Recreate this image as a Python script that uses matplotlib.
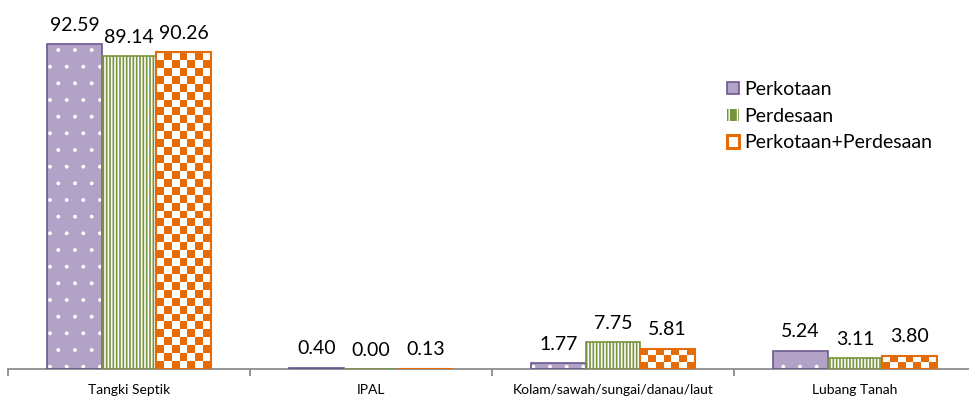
import numpy as np
import matplotlib
matplotlib.use("Agg")
import matplotlib.pyplot as plt
from matplotlib.patches import Patch

# data
kategori = ["Tangki Septik", "IPAL", "Kolam/sawah/sungai/danau/laut", "Lubang Tanah"]
perkotaan = [92.59, 0.40, 1.77, 5.24]
perdesaan = [89.14, 0.00, 7.75, 3.11]
gabungan = [90.26, 0.13, 5.81, 3.80]
label_seri = ["Perkotaan", "Perdesaan", "Perkotaan+Perdesaan"]

plt.rcParams["font.family"] = ["Lato", "DejaVu Sans"]

ungu, ungu_tepi = "#b3a2c7", "#6b5890"
hijau = "#77933c"
oranye = "#e36c09"

fig = plt.figure(figsize=(9.69, 4.0), dpi=100)
ax = fig.add_axes([8 / 969, 31 / 400, 968 / 969, 351 / 400])

x = np.arange(len(kategori))
w = 0.225

# Perkotaan: ungu dengan titik putih
with plt.rc_context({"hatch.linewidth": 0.3}):
    ax.bar(x - w, perkotaan, w, color=ungu, edgecolor="white", hatch=".", linewidth=0, zorder=2)
ax.bar(x - w, perkotaan, w, facecolor="none", edgecolor=ungu_tepi, linewidth=1.2, zorder=3)

# Perdesaan: garis vertikal
with plt.rc_context({"hatch.linewidth": 1.2}):
    ax.bar(x, perdesaan, w, color=hijau, edgecolor="white", hatch="|||||", linewidth=0, zorder=2)
ax.bar(x, perdesaan, w, facecolor="none", edgecolor=hijau, linewidth=1.2, zorder=3)

# Perkotaan+Perdesaan: papan catur
bars_o = ax.bar(x + w, gabungan, w, color="white", edgecolor="none", zorder=2)
px_x = 242.0       # piksel per satuan x
px_y = 351 / 100.0  # piksel per satuan y
sel = 8.0
cmap = matplotlib.colors.ListedColormap([oranye, "white"])
for b in bars_o:
    bx, bw, bh = b.get_x(), b.get_width(), b.get_height()
    nx = max(1, int(round(bw * px_x / sel)))
    ny = max(1, int(round(bh * px_y / sel)))
    papan = (np.add.outer(np.arange(ny), np.arange(nx)) % 2).astype(float)
    im = ax.imshow(papan, extent=(bx, bx + bw, 0, bh), origin="lower", cmap=cmap,
                   interpolation="nearest", aspect="auto", zorder=2.5)
    im.set_clip_path(b)
ax.bar(x + w, gabungan, w, facecolor="none", edgecolor=oranye, linewidth=1.5, zorder=3)

# label nilai
for off, vals in zip([-w, 0, w], [perkotaan, perdesaan, gabungan]):
    for xi, v in zip(x, vals):
        ax.annotate(f"{v:.2f}", (xi + off, v), xytext=(0, 9.5), textcoords="offset points",
                    ha="center", va="baseline", fontsize=14, color="black")

ax.set_xlim(-0.5, len(kategori) - 0.5)
ax.set_ylim(0, 100)

for s in ["top", "right", "left"]:
    ax.spines[s].set_visible(False)
ax.spines["bottom"].set_color("#8c8c8c")
ax.spines["bottom"].set_linewidth(1.3)
ax.set_yticks([])
ax.set_xticks(x)
ax.set_xticklabels(kategori, fontsize=10)
ax.tick_params(axis="x", which="major", length=0, pad=11)
ax.set_xticks(np.arange(len(kategori) + 1) - 0.5, minor=True)
ax.tick_params(axis="x", which="minor", length=5, width=1.3, color="#8c8c8c", direction="out")

with plt.rc_context({"hatch.linewidth": 1.5}):
    handles = [
        Patch(facecolor=ungu, edgecolor=ungu_tepi, linewidth=1.2),
        Patch(facecolor=hijau, edgecolor="white", hatch="||", linewidth=0),
        Patch(facecolor="white", edgecolor=oranye, linewidth=2.2),
    ]
fig.legend(handles, label_seri, loc="upper left", bbox_to_anchor=(727 / 969, 1 - 81 / 400),
           frameon=False, fontsize=14, handlelength=0.6, handleheight=0.6,
           handletextpad=0.3, labelspacing=0.5, borderaxespad=0, borderpad=0)

fig.savefig("out.png", dpi=100)
